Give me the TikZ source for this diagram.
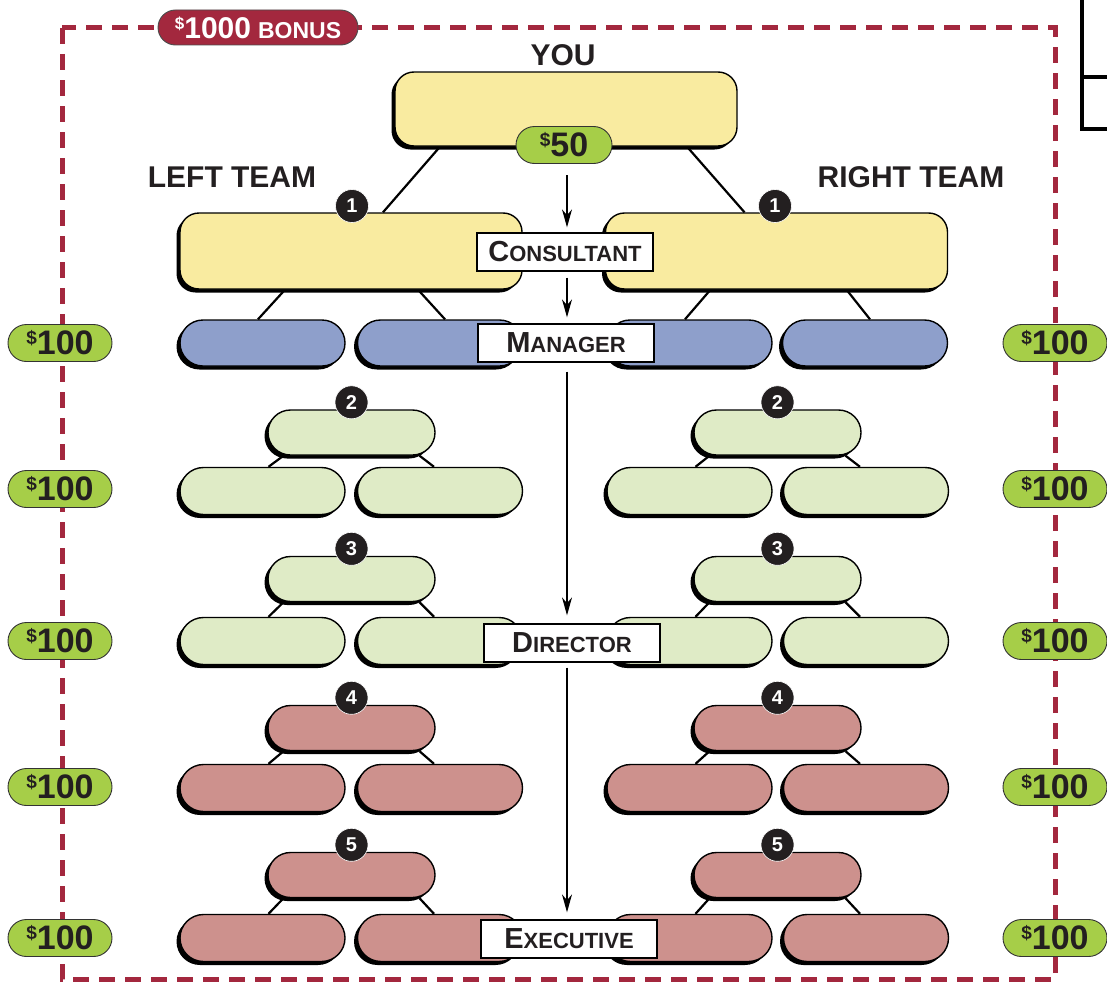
\documentclass[tikz,border=0pt]{standalone}
\usepackage{fontspec}
\setmainfont{Liberation Sans}
\usetikzlibrary{shapes.misc,shadows,arrows.meta,calc,backgrounds}
\definecolor{bordercol}{HTML}{A3283E}
\definecolor{youyellow}{HTML}{F9EBA0}
\definecolor{mgrblue}{HTML}{8E9FCB}
\definecolor{lgreen}{HTML}{DFEBC6}
\definecolor{rose}{HTML}{CD918D}
\definecolor{mgreen}{HTML}{A6CE48}
\definecolor{ink}{HTML}{231F20}
\newcommand\dolsign[1]{\raisebox{10pt}{\fontsize{19}{19}\selectfont\$}#1}
\newcommand\fakesc[2]{{\fontsize{29}{29}\selectfont #1}{\fontsize{22}{22}\selectfont #2}}
\begin{document}
\begin{tikzpicture}[x=1pt,y=-1pt,
  shad/.style={drop shadow={shadow xshift=-3.5pt,shadow yshift=-3.5pt,fill=black,opacity=1}},
  pillbox/.style={rounded rectangle, draw=black, line width=1.4pt, minimum width=#1, minimum height=46, inner sep=0pt, shad},
  pillbox/.default=165,
  teambox/.style={rectangle, rounded corners=19pt, draw=black, line width=1.4pt, fill=youyellow, minimum width=342, minimum height=76, inner sep=0pt, shad},
  money/.style={rounded rectangle, draw=black!80, line width=0.9pt, fill=mgreen, minimum width=104, minimum height=37, inner sep=0pt, text=ink, font=\bfseries\fontsize{34}{34}\selectfont},
  numbadge/.style={circle, fill=ink, draw=white, line width=0.6pt, text=white, minimum size=33, inner sep=0pt, font=\bfseries\fontsize{20}{20}\selectfont},
  lbl/.style={rectangle, draw=black, line width=1.3pt, fill=white, minimum width=176, minimum height=38, inner sep=0pt, text=ink, font=\bfseries},
  title/.style={font=\bfseries\fontsize{30}{30}\selectfont, text=ink},
  conn/.style={line width=2.2pt, black},
  arr/.style={line width=1.3pt, -{Stealth[length=18pt,width=10pt]}}
]
\useasboundingbox (0,0) rectangle (1107,982);

% main boxes
\node[teambox, minimum height=74] (you) at (566,109) {};
\node[money, minimum width=96] (fifty) at (564,145) {\dolsign{50}};
\node[teambox] (lt) at (351,251) {};
\node[teambox] (rt) at (776.5,251) {};
\node[numbadge] (n1l) at (352,206) {1};
\node[numbadge] (n1r) at (775,206) {1};

\node[title] (youtxt) at (563,55) {YOU};
\node[title] (lefttxt) at (232,177) {LEFT TEAM};
\node[title] (righttxt) at (911,177) {RIGHT TEAM};

% blue row
\node[pillbox, fill=mgrblue] (m1) at (262.5,343) {};
\node[pillbox, fill=mgrblue] (m2) at (440,343) {};
\node[pillbox, fill=mgrblue] (m3) at (689.5,343) {};
\node[pillbox, fill=mgrblue] (m4) at (865,343) {};

% levels 2-5
\foreach \n/\ty/\by/\col in {2/432.5/491/lgreen, 3/579/641/lgreen, 4/728/788/rose, 5/875/938/rose}{
  \node[pillbox=167, minimum height=45, fill=\col] (tl\n) at (351.5,\ty) {};
  \node[pillbox=167, minimum height=45, fill=\col] (tr\n) at (777.5,\ty) {};
  \node[pillbox, minimum height=47, fill=\col] (bla\n) at (262.5,\by) {};
  \node[pillbox, minimum height=47, fill=\col] (blb\n) at (440,\by) {};
  \node[pillbox, minimum height=47, fill=\col] (bra\n) at (689.5,\by) {};
  \node[pillbox, minimum height=47, fill=\col] (brb\n) at (866,\by) {};
  \node[numbadge] (nl\n) at ([yshift=7pt]tl\n.north) {\n};
  \node[numbadge] (nr\n) at ([yshift=7pt]tr\n.north) {\n};
  \begin{scope}[on background layer]
    \draw[conn] ([xshift=-68pt]tl\n.south) -- ([xshift=6pt]bla\n.north);
    \draw[conn] ([xshift=68pt]tl\n.south) -- ([xshift=-6pt]blb\n.north);
    \draw[conn] ([xshift=-68pt]tr\n.south) -- ([xshift=6pt]bra\n.north);
    \draw[conn] ([xshift=68pt]tr\n.south) -- ([xshift=-6pt]brb\n.north);
  \end{scope}
}

% money badges
\foreach \y [count=\i] in {343,489,641,787,938}{
  \node[money] (ml\i) at (60,\y) {\dolsign{100}};
  \node[money] (mr\i) at (1055,\y) {\dolsign{100}};
}

% labels
\node[lbl] (cons) at (565,252) {\fakesc{C}{ONSULTANT}};
\node[lbl] (mgr) at (566,343) {\fakesc{M}{ANAGER}};
\node[lbl] (dir) at (572,643) {\fakesc{D}{IRECTOR}};
\node[lbl] (exe) at (569,939) {\fakesc{E}{XECUTIVE}};

% arrows
\coordinate (a1) at (567,175);
\draw[arr] (a1) -- ([yshift=5pt]a1 |- cons.north);
\draw[arr] ([yshift=-6pt]a1 |- cons.south) -- ([yshift=6pt]a1 |- mgr.north);
\draw[arr] ([yshift=-9pt]a1 |- mgr.south) -- ([yshift=8pt]a1 |- dir.north);
\draw[arr] ([yshift=-5pt]a1 |- dir.south) -- ([yshift=7pt]a1 |- exe.north);

% bonus pill
\node[rounded rectangle, draw=black!70, line width=0.9pt, fill=bordercol, minimum width=200, minimum height=35, inner sep=0pt, text=white, font=\bfseries] (bonus) at (258,27.5)
  {\raisebox{9pt}{\fontsize{17}{17}\selectfont\$}{\fontsize{30}{30}\selectfont 1000}\hspace{7pt}{\fontsize{23}{23}\selectfont BONUS}};

\begin{scope}[on background layer]
  \draw[bordercol, line width=5pt, dash pattern=on 16pt off 10pt] (62,28) rectangle (1055,979);
  \draw[black, line width=3.2pt] (1082,-3) -- (1082,129) -- (1112,129);
  \draw[black, line width=3.2pt] (1082,77) -- (1112,77);
  \draw[conn] ([xshift=-126pt]you.south) -- ([xshift=32pt]lt.north);
  \draw[conn] ([xshift=121pt]you.south) -- ([xshift=-32pt]rt.north);
  \draw[conn] ([xshift=-66pt]lt.south) -- ([xshift=-4.5pt]m1.north);
  \draw[conn] ([xshift=67pt]lt.south) -- ([xshift=5pt]m2.north);
  \draw[conn] ([xshift=-66pt]rt.south) -- ([xshift=-4.5pt]m3.north);
  \draw[conn] ([xshift=70pt]rt.south) -- ([xshift=5pt]m4.north);
\end{scope}
\end{tikzpicture}
\end{document}
